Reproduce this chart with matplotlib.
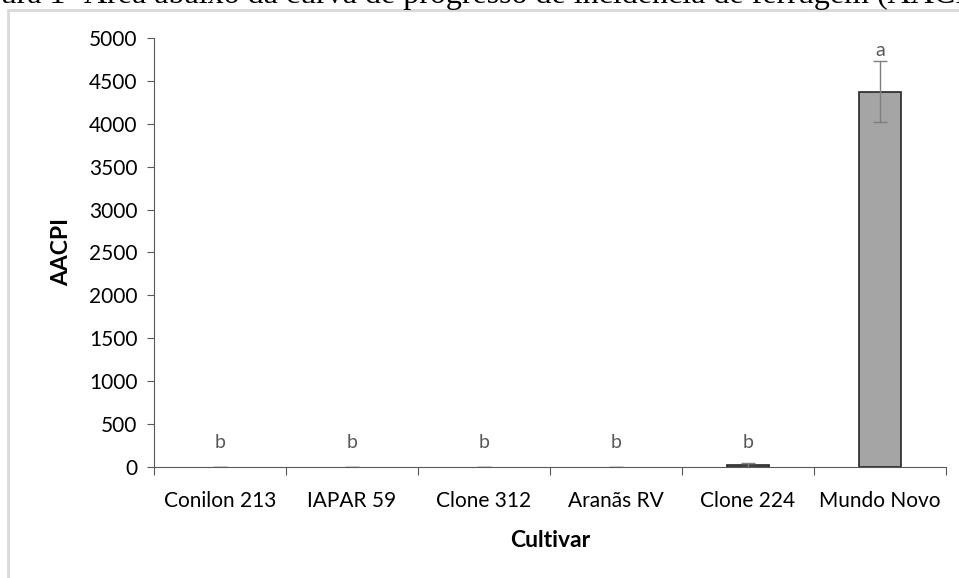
import matplotlib.pyplot as plt
from matplotlib.patches import Rectangle

cultivares = ['Conilon 213', 'IAPAR 59', 'Clone 312', 'Aranãs RV', 'Clone 224', 'Mundo Novo']
aacpi = [0, 0, 0, 0, 20, 4375]
erro = [0, 0, 0, 0, 25, 355]
letras = ['b', 'b', 'b', 'b', 'b', 'a']
pos_letra = [280, 280, 280, 280, 280, 4860]

plt.rcParams['font.family'] = ['Lato', 'DejaVu Sans']

fig = plt.figure(figsize=(9.59, 5.78), dpi=100)

# moldura cinza do grafico (recortada)
fig.patches.append(Rectangle((8 / 959, -0.1), 1.2, 1 - 10 / 578 + 0.1, transform=fig.transFigure,
                             fill=False, edgecolor='#d9d9d9', linewidth=2))

# titulo da figura cortado no topo
fig.text(-42 / 959, 1 - 3 / 578, 'Figura 1- Área abaixo da curva de progresso de incidência de ferrugem (AACPI)',
         family='Liberation Serif', fontsize=23, va='baseline', ha='left', color='black')

ax = fig.add_axes([154 / 959, 111 / 578, 792 / 959, 429 / 578])
x = list(range(len(cultivares)))
bordas = ['#262626' if v > 0 else 'none' for v in aacpi]
ax.bar(x, aacpi, width=0.32, color='#a5a5a5', edgecolor=bordas, linewidth=1.2,
       yerr=erro, error_kw=dict(ecolor='#7f7f7f', elinewidth=1, capsize=4.7, capthick=1))

for xi, t, yi in zip(x, letras, pos_letra):
    ax.text(xi, yi, t, ha='center', va='center', fontsize=14, color='#595959')

ax.set_xlim(-0.5, len(cultivares) - 0.5)
ax.set_ylim(0, 5000)
ax.set_yticks(range(0, 5001, 500))
ax.set_xticks([i - 0.5 for i in range(len(cultivares) + 1)], minor=False)
ax.set_xticklabels([])
ax.set_xticks(x, minor=True)
ax.set_xticklabels(cultivares, minor=True)
ax.tick_params(axis='x', which='major', length=6, direction='out', color='#595959')
ax.tick_params(axis='x', which='minor', length=0, labelsize=15, pad=17, labelcolor='black')
ax.tick_params(axis='y', length=5, direction='out', color='#595959', labelsize=15, pad=7)

for s in ['top', 'right']:
    ax.spines[s].set_visible(False)
ax.spines['left'].set_color('#595959')
ax.spines['bottom'].set_color('#595959')

ax.set_ylabel('AACPI', fontsize=16.5, fontweight='bold', labelpad=12)
ax.set_xlabel('Cultivar', fontsize=16.5, fontweight='bold', labelpad=14)

plt.savefig('out.png', dpi=100)
